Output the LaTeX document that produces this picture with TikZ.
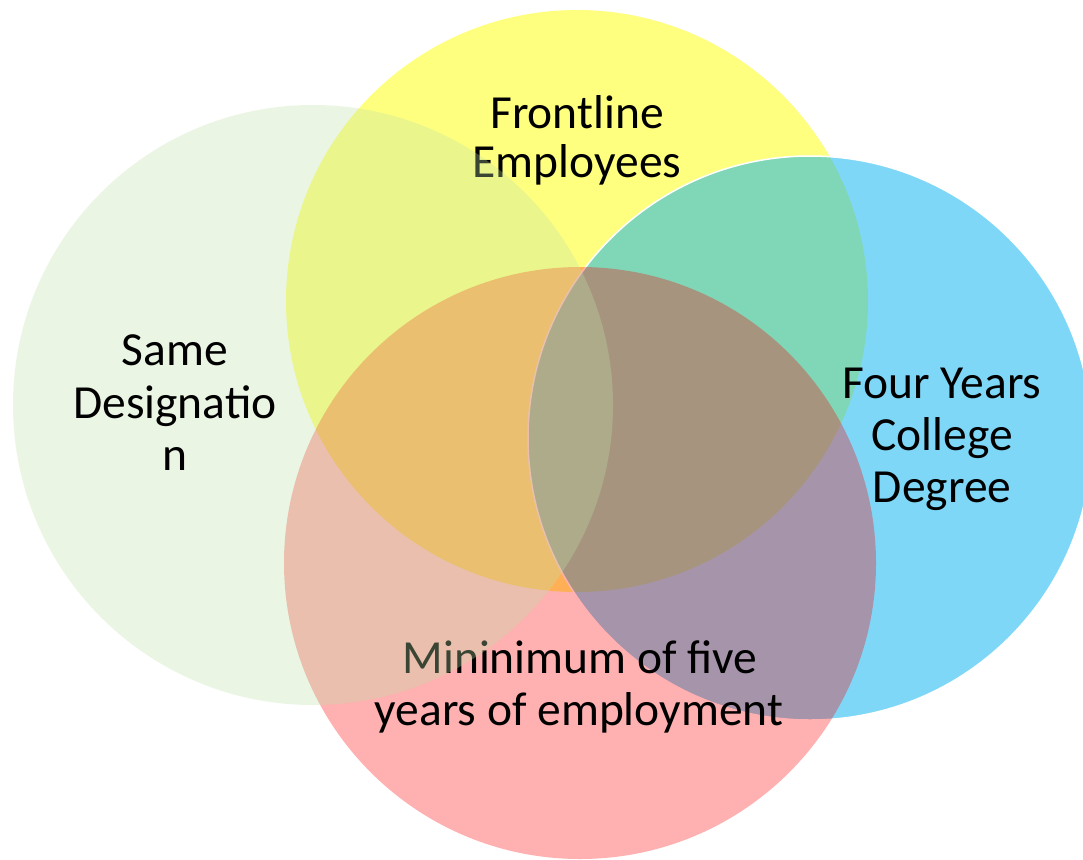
\documentclass[tikz,border=0pt]{standalone}
\usepackage{fontspec}
\setmainfont{Carlito}
\definecolor{setyellow}{RGB}{255,255,0}
\definecolor{setblue}{RGB}{0,176,240}
\definecolor{setred}{RGB}{255,0,0}
\definecolor{setgreen}{RGB}{190,225,167}
\begin{document}
\begin{tikzpicture}[x=1pt,y=-1pt,
  setlabel/.style={anchor=base,inner sep=0pt,text=black,
    font=\fontsize{47.5}{52}\selectfont},
  yellowset/.style={fill=setyellow,fill opacity=0.5},
  blueset/.style={fill=setblue,fill opacity=0.5,draw=white,line width=1.5pt},
  redset/.style={fill=setred,fill opacity=0.31},
  greenset/.style={fill=setgreen,fill opacity=0.31}]
  \useasboundingbox (0,0) rectangle (1083,859);
  \fill[white] (0,0) rectangle (1083,859);
  % the four sets, layered back to front
  \path[yellowset] (577,301) circle[radius=291pt];
  \path[blueset]   (810,438) circle[radius=282pt];
  \path[redset]    (580,563) circle[radius=296pt];
  % labels lying under the pale set
  \node[setlabel] (fr1) at (577,128) {Frontline};
  \node[setlabel] (fr2) at (577,177) {Employees};
  \node[setlabel] (mi1) at (580,673) {Mininimum of five};
  \node[setlabel] (mi2) at (579,725) {years of employment};
  \path[greenset]  (313,405) circle[radius=300pt];
  % labels on top
  \node[setlabel] (sd1) at (175,365) {Same};
  \node[setlabel] (sd2) at (175,418) {Designatio};
  \node[setlabel] (sd3) at (175,470) {n};
  \node[setlabel] (fy1) at (942,398) {Four Years};
  \node[setlabel] (fy2) at (942,450) {College};
  \node[setlabel] (fy3) at (942,502) {Degree};
\end{tikzpicture}
\end{document}
